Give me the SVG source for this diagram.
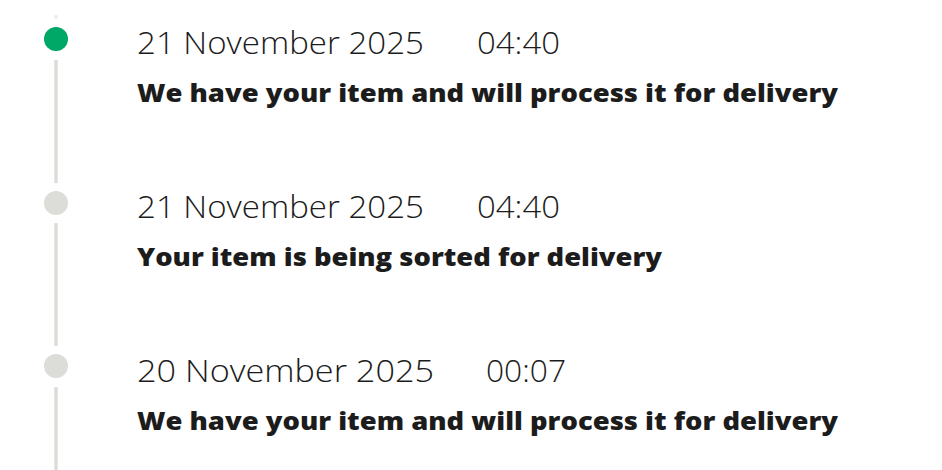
<svg xmlns="http://www.w3.org/2000/svg" width="942" height="470" viewBox="0 0 942 470">
<style>
.date{font-family:"Open Sans","Liberation Sans",sans-serif;font-weight:300;font-size:31px;fill:#1c1c1c}
.status{font-family:"Open Sans","Liberation Sans",sans-serif;font-weight:800;font-size:25px;fill:#1c1c1c}
.line{stroke:#dcdcd8;stroke-width:3.5;fill:none}
.dot{fill:#dcdcd8}
.dot.active{fill:#00a868}
</style>
<rect width="942" height="470" fill="#ffffff"/>
<g id="connectors">
<line class="line" x1="56" y1="15" x2="56" y2="19" stroke-opacity="0.5"/>
<line class="line" x1="56" y1="60" x2="56" y2="183"/>
<line class="line" x1="56" y1="223" x2="56" y2="346"/>
<line class="line" x1="56" y1="387" x2="56" y2="470"/>
</g>
<g id="event1">
<circle class="dot active" cx="56" cy="39" r="12"/>
<text class="date" x="137" y="54" textLength="287" lengthAdjust="spacingAndGlyphs">21 November 2025</text>
<text class="date" x="477" y="54" textLength="83" lengthAdjust="spacingAndGlyphs">04:40</text>
<text class="status" x="137" y="102" textLength="701" lengthAdjust="spacingAndGlyphs">We have your item and will process it for delivery</text>
</g>
<g id="event2">
<circle class="dot" cx="56" cy="203" r="12"/>
<text class="date" x="137" y="218" textLength="287" lengthAdjust="spacingAndGlyphs">21 November 2025</text>
<text class="date" x="477" y="218" textLength="83" lengthAdjust="spacingAndGlyphs">04:40</text>
<text class="status" x="137" y="266" textLength="525" lengthAdjust="spacingAndGlyphs">Your item is being sorted for delivery</text>
</g>
<g id="event3">
<circle class="dot" cx="56" cy="366" r="12"/>
<text class="date" x="137" y="382" textLength="297" lengthAdjust="spacingAndGlyphs">20 November 2025</text>
<text class="date" x="486" y="382" textLength="80" lengthAdjust="spacingAndGlyphs">00:07</text>
<text class="status" x="137" y="430" textLength="701" lengthAdjust="spacingAndGlyphs">We have your item and will process it for delivery</text>
</g>
</svg>
